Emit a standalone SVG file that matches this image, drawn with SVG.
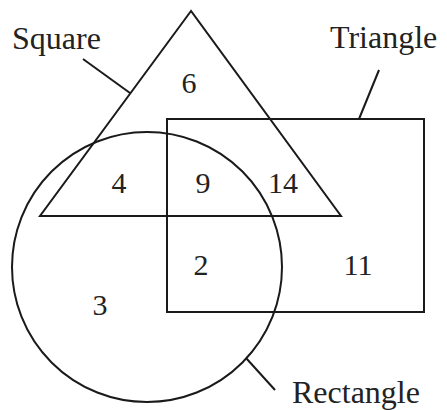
<svg xmlns="http://www.w3.org/2000/svg" width="447" height="410" viewBox="0 0 447 410">
<style>
.s{fill:none;stroke:#1a1a1a;stroke-width:2}
.t{font-family:'Liberation Serif',serif;font-size:32px;fill:#222}
.n{font-family:'Liberation Serif',serif;font-size:30px;fill:#222;text-anchor:middle}
</style>
<rect width="447" height="410" fill="#fff"/>
<g id="triangle"><polygon class="s" points="191,11 40,216 341,216"/></g>
<g id="rectangle"><rect class="s" x="167" y="119" width="257" height="193"/></g>
<g id="circle"><circle class="s" cx="147" cy="267" r="135"/></g>
<g id="connectors">
<line class="s" x1="83" y1="59" x2="130" y2="93"/>
<line class="s" x1="379" y1="70" x2="359" y2="119"/>
<line class="s" x1="246" y1="358" x2="275" y2="390"/>
</g>
<g id="labels">
<text class="t" x="12" y="49">Square</text>
<text class="t" x="330" y="48">Triangle</text>
<text class="t" x="292" y="403">Rectangle</text>
</g>
<g id="numbers">
<text class="n" x="189" y="93">6</text>
<text class="n" x="119" y="193">4</text>
<text class="n" x="203" y="193">9</text>
<text class="n" x="283" y="193">14</text>
<text class="n" x="201" y="275">2</text>
<text class="n" x="358" y="275">11</text>
<text class="n" x="100" y="315">3</text>
</g>
</svg>
